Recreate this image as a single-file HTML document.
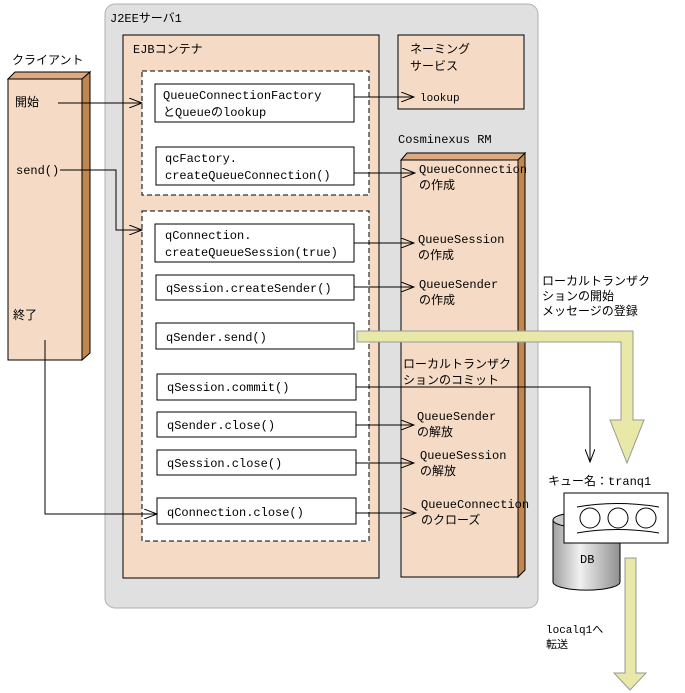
<!DOCTYPE html>
<html><head><meta charset="utf-8"><style>body{margin:0;background:#fff}svg{display:block}text{font-family:"Liberation Mono","Noto Sans CJK JP",monospace;font-size:12px;fill:#000}</style></head><body>
<svg width="685" height="693" viewBox="0 0 685 693" xmlns="http://www.w3.org/2000/svg">
<defs>
<marker id="a" markerWidth="14" markerHeight="10" refX="13" refY="5" orient="auto" markerUnits="userSpaceOnUse"><path d="M0,0 L13,5 L0,10" fill="none" stroke="#000"/></marker>
<linearGradient id="cy" x1="0" x2="1"><stop offset="0" stop-color="#a0a0a0"/><stop offset="0.4" stop-color="#f0f0f0"/><stop offset="1" stop-color="#909090"/></linearGradient>
</defs>
<rect x="105" y="4" width="433" height="604" rx="10" fill="#e0e0e0" stroke="#b0b0b0"/>
<text x="110" y="22">J2EEサーバ1</text>
<rect x="123" y="35" width="256" height="543" fill="#f5dbc5" stroke="#000"/>
<text x="133" y="53">EJBコンテナ</text>
<rect x="398" y="35" width="126" height="74" fill="#f5dbc5" stroke="#000"/>
<text x="410" y="53">ネーミング</text><text x="410" y="70">サービス</text>
<text x="420" y="101" style="font-size:11px">lookup</text>
<text x="398" y="143">Cosminexus RM</text>
<polygon points="401,160 407,153 525,153 518,160" fill="#dcaa80" stroke="#000"/>
<polygon points="518,160 525,153 525,570 518,577" fill="#c08850" stroke="#000"/>
<rect x="401" y="160" width="117" height="417" fill="#f5dbc5" stroke="#000"/>
<text x="12" y="64">クライアント</text>
<polygon points="8,79 15,72 90,72 82,79" fill="#dcaa80" stroke="#000"/>
<polygon points="82,79 90,72 90,353 82,360" fill="#c08850" stroke="#000"/>
<rect x="8" y="79" width="74" height="281" fill="#f5dbc5" stroke="#000"/>
<text x="15" y="106">開始</text><text x="16" y="174">send()</text><text x="13" y="319">終了</text>
<rect x="142" y="71" width="227" height="124" fill="#fff" stroke="#000" stroke-dasharray="5,3"/>
<rect x="142" y="211" width="227" height="330" fill="#fff" stroke="#000" stroke-dasharray="5,3"/>
<g fill="#fff" stroke="#000">
<rect x="155" y="84" width="199" height="38"/><rect x="156" y="147" width="198" height="38"/>
<rect x="155" y="224" width="199" height="38"/><rect x="156" y="275" width="198" height="25"/>
<rect x="156" y="323" width="198" height="26"/><rect x="157" y="374" width="199" height="26"/>
<rect x="157" y="412" width="199" height="25"/><rect x="157" y="450" width="199" height="25"/>
<rect x="157" y="498" width="199" height="26"/>
</g>
<text x="163" y="99">QueueConnectionFactory</text><text x="163" y="116">とQueueのlookup</text>
<text x="165" y="162">qcFactory.</text><text x="165" y="179">createQueueConnection()</text>
<text x="165" y="239">qConnection.</text><text x="165" y="256">createQueueSession(true)</text>
<text x="166" y="292">qSession.createSender()</text>
<text x="166" y="341">qSender.send()</text>
<text x="167" y="391">qSession.commit()</text>
<text x="167" y="429">qSender.close()</text>
<text x="167" y="467">qSession.close()</text>
<text x="167" y="516">qConnection.close()</text>
<g fill="none" stroke="#000" marker-end="url(#a)">
<path d="M58,103 H142"/><path d="M60,170 H116 V230 H142"/><path d="M45,340 V514 H157"/>
<path d="M354,97 H414"/><path d="M354,173 H415"/><path d="M354,243 H414"/><path d="M354,287 H414"/>
<path d="M356,387 H590 V462"/><path d="M356,425 H414"/><path d="M356,463 H414"/><path d="M356,513 H416"/>
</g>
<g style="font-size:10.5px">
<text x="419" y="173">QueueConnection</text><text x="419" y="189">の作成</text>
<text x="418" y="243">QueueSession</text><text x="418" y="259">の作成</text>
<text x="419" y="288">QueueSender</text><text x="419" y="304">の作成</text>
<text x="417" y="420">QueueSender</text><text x="417" y="436">の解放</text>
<text x="420" y="459">QueueSession</text><text x="420" y="475">の解放</text>
<text x="421" y="508">QueueConnection</text><text x="421" y="524">のクローズ</text>
</g>
<text x="403" y="368">ローカルトランザク</text><text x="403" y="384">ションのコミット</text>
<text x="542" y="285">ローカルトランザク</text><text x="542" y="300">ションの開始</text><text x="542" y="315">メッセージの登録</text>
<polygon points="357,331 633,331 633,420 644,420 627,463 610,420 621,420 621,342 357,342" fill="#e8e8a8" stroke="#999"/>
<text x="548" y="485">キュー名：tranq1</text>
<path d="M553,520 V582 A33,8 0 0 0 620,582 V520" fill="url(#cy)" stroke="#000"/>
<ellipse cx="586.5" cy="520" rx="33.5" ry="8" fill="#ccc" stroke="#000"/>
<text x="580" y="563">DB</text>
<rect x="564" y="493" width="104" height="50" fill="#fff" stroke="#000"/>
<path d="M577,507 Q616,500 659,507 M577,533 Q616,526 659,533" fill="none" stroke="#000"/>
<circle cx="590" cy="518" r="10" fill="none" stroke="#000"/><circle cx="618" cy="518" r="10" fill="none" stroke="#000"/><circle cx="646" cy="518" r="10" fill="none" stroke="#000"/>
<polygon points="625,558 636,558 636,673 646,673 630,690 614,673 625,673" fill="#e8e8a8" stroke="#999"/>
<text x="546" y="633" style="font-size:11px">localq1へ</text><text x="546" y="648" style="font-size:11px">転送</text>
</svg>
</body></html>
